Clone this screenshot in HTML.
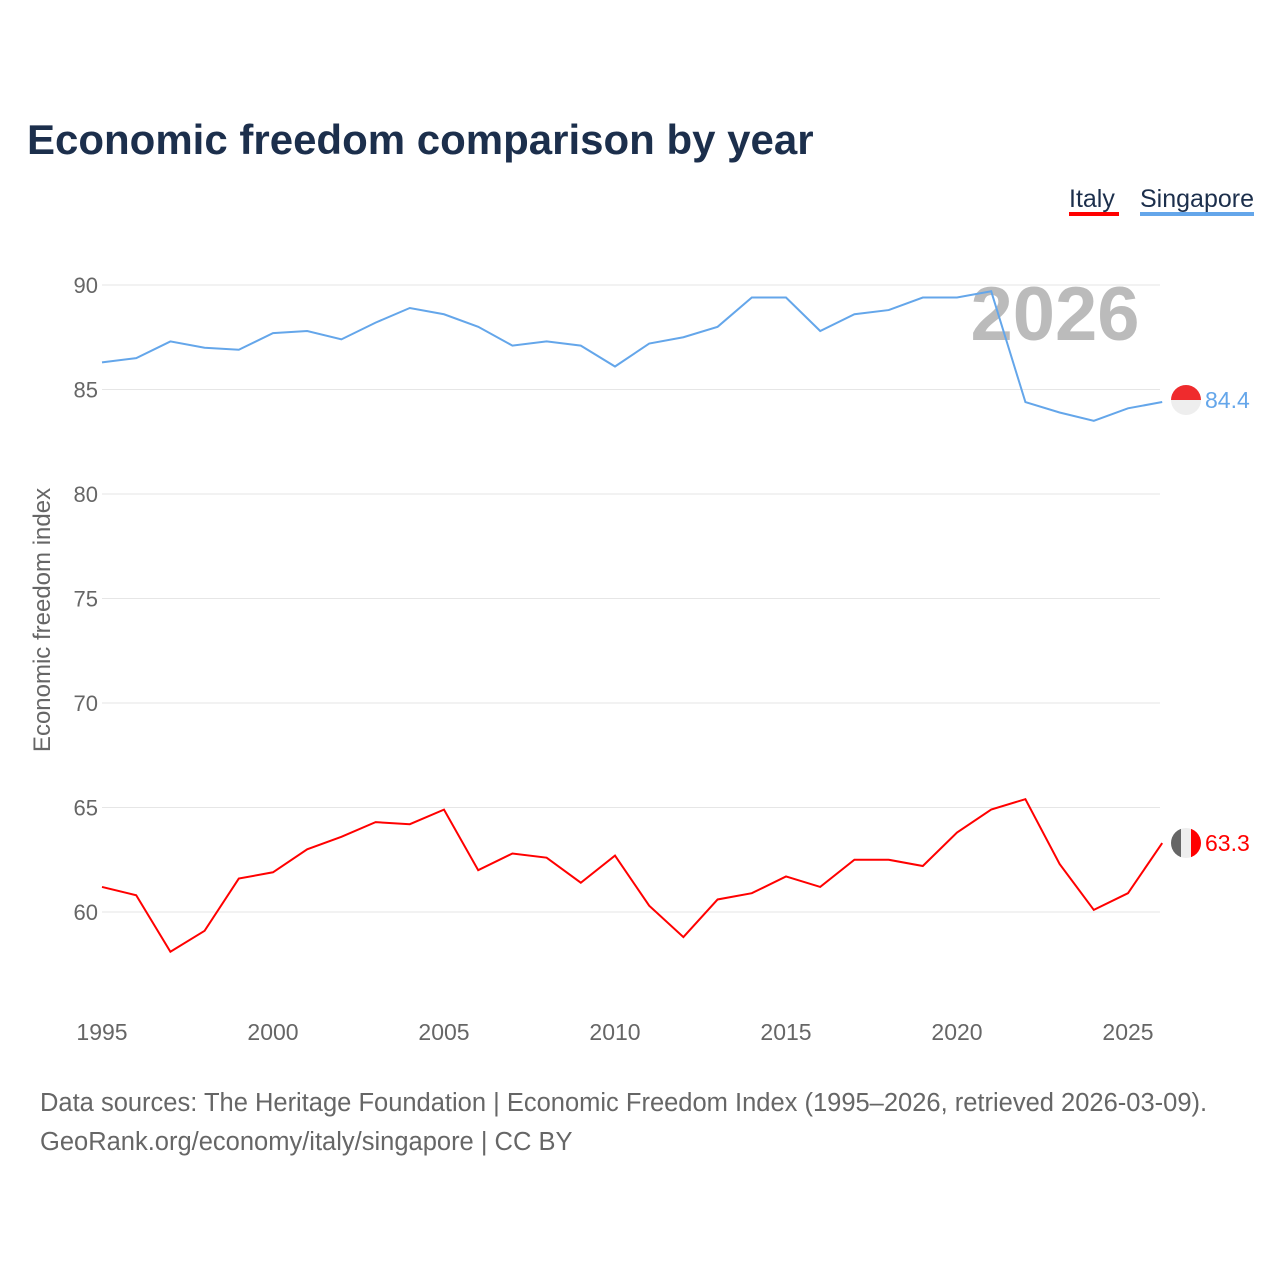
<!DOCTYPE html>
<html><head><meta charset="utf-8"><style>
body{margin:0;background:#fff;font-family:"Liberation Sans",sans-serif;}
#wrap{position:relative;width:1280px;height:1280px;overflow:hidden}
</style></head><body>
<div id="wrap">
<svg id="chart" width="1280" height="1280" xmlns="http://www.w3.org/2000/svg">
<defs><clipPath id="cSg"><circle cx="1186" cy="400" r="15"/></clipPath><clipPath id="cIt"><circle cx="1186" cy="843" r="15"/></clipPath></defs>
<text x="27" y="154" font-size="42" font-weight="bold" fill="#1c2f4c">Economic freedom comparison by year</text>
<g><text x="1069" y="207" font-size="25" fill="#1c2f4c">Italy</text><rect x="1069" y="212" width="50" height="4" fill="#ff0000"/></g>
<g><text x="1140" y="207" font-size="25" fill="#1c2f4c">Singapore</text><rect x="1140" y="212" width="114" height="4" fill="#64a6ea"/></g>
<text transform="translate(50,620) rotate(-90)" text-anchor="middle" font-size="24" fill="#666">Economic freedom index</text>
<text x="1055" y="340" text-anchor="middle" font-size="76" font-weight="bold" fill="#bbb">2026</text>
<g id="grid"></g><g id="series"></g>
<text x="40" y="1111" font-size="25.5" fill="#666">Data sources: The Heritage Foundation | Economic Freedom Index (1995–2026, retrieved 2026-03-09).</text>
<text x="40" y="1150" font-size="25.5" fill="#666">GeoRank.org/economy/italy/singapore | CC BY</text>
</svg></div>
<script>
const years=[1995,1996,1997,1998,1999,2000,2001,2002,2003,2004,2005,2006,2007,2008,2009,2010,2011,2012,2013,2014,2015,2016,2017,2018,2019,2020,2021,2022,2023,2024,2025,2026];
const singapore=[86.3,86.5,87.3,87.0,86.9,87.7,87.8,87.4,88.2,88.9,88.6,88.0,87.1,87.3,87.1,86.1,87.2,87.5,88.0,89.4,89.4,87.8,88.6,88.8,89.4,89.4,89.7,84.4,83.9,83.5,84.1,84.4];
const italy=[61.2,60.8,58.1,59.1,61.6,61.9,63.0,63.6,64.3,64.2,64.9,62.0,62.8,62.6,61.4,62.7,60.3,58.8,60.6,60.9,61.7,61.2,62.5,62.5,62.2,63.8,64.9,65.4,62.3,60.1,60.9,63.3];
const yTicks=[60,65,70,75,80,85,90];
const xTicks=[1995,2000,2005,2010,2015,2020,2025];
const NS="http://www.w3.org/2000/svg";
const x=v=>102+(v-1995)*(1128-102)/30;
const y=v=>912-(v-60)*(912-285)/30;
const grid=document.getElementById('grid'),ser=document.getElementById('series');
function mk(tag,attrs,parent){const e=document.createElementNS(NS,tag);for(const k in attrs)e.setAttribute(k,attrs[k]);parent.appendChild(e);return e;}
yTicks.forEach(t=>{
 const l=mk('line',{x1:102,x2:1160,y1:y(t),y2:y(t),stroke:'#e6e6e6','stroke-width':1},grid);
 
 
 const tx=mk('text',{x:98,y:y(t)+8,'text-anchor':'end','font-size':22,fill:'#666'},grid);
 tx.textContent=t;
 
 
});
xTicks.forEach(t=>{
 const tx=mk('text',{x:x(t),y:1040,'text-anchor':'middle','font-size':23,fill:'#666'},grid);
 tx.textContent=t;
 
 
});
function draw(vals,color,name,flag){
 const p=mk('polyline',{points:vals.map((v,i)=>x(years[i])+','+y(v)).join(' '),fill:'none',stroke:color,'stroke-width':2},ser);
 
 
 const lv=vals[vals.length-1],ly=y(lv);
 const fy=flag==='sg'?400:843;
 const g=mk('g',{'clip-path':flag==='sg'?'url(#cSg)':'url(#cIt)'},ser);
 
 
 mk('rect',{x:1171,y:fy-15,width:30,height:30,fill:'#eee'},g);
 if(flag==='sg'){mk('rect',{x:1171,y:fy-15,width:30,height:15,fill:'#ef2b2d'},g);}
 else{mk('rect',{x:1171,y:fy-15,width:10,height:30,fill:'#666'},g);
  mk('rect',{x:1191,y:fy-15,width:10,height:30,fill:'#ff0000'},g);}
 const t=mk('text',{x:1205,y:fy+8,'font-size':23,fill:color},ser);
 t.textContent=lv.toFixed(1);
 
 
}
draw(singapore,'#64a6ea','singapore','sg');
draw(italy,'#ff0000','italy','it');
</script>
</body></html>
